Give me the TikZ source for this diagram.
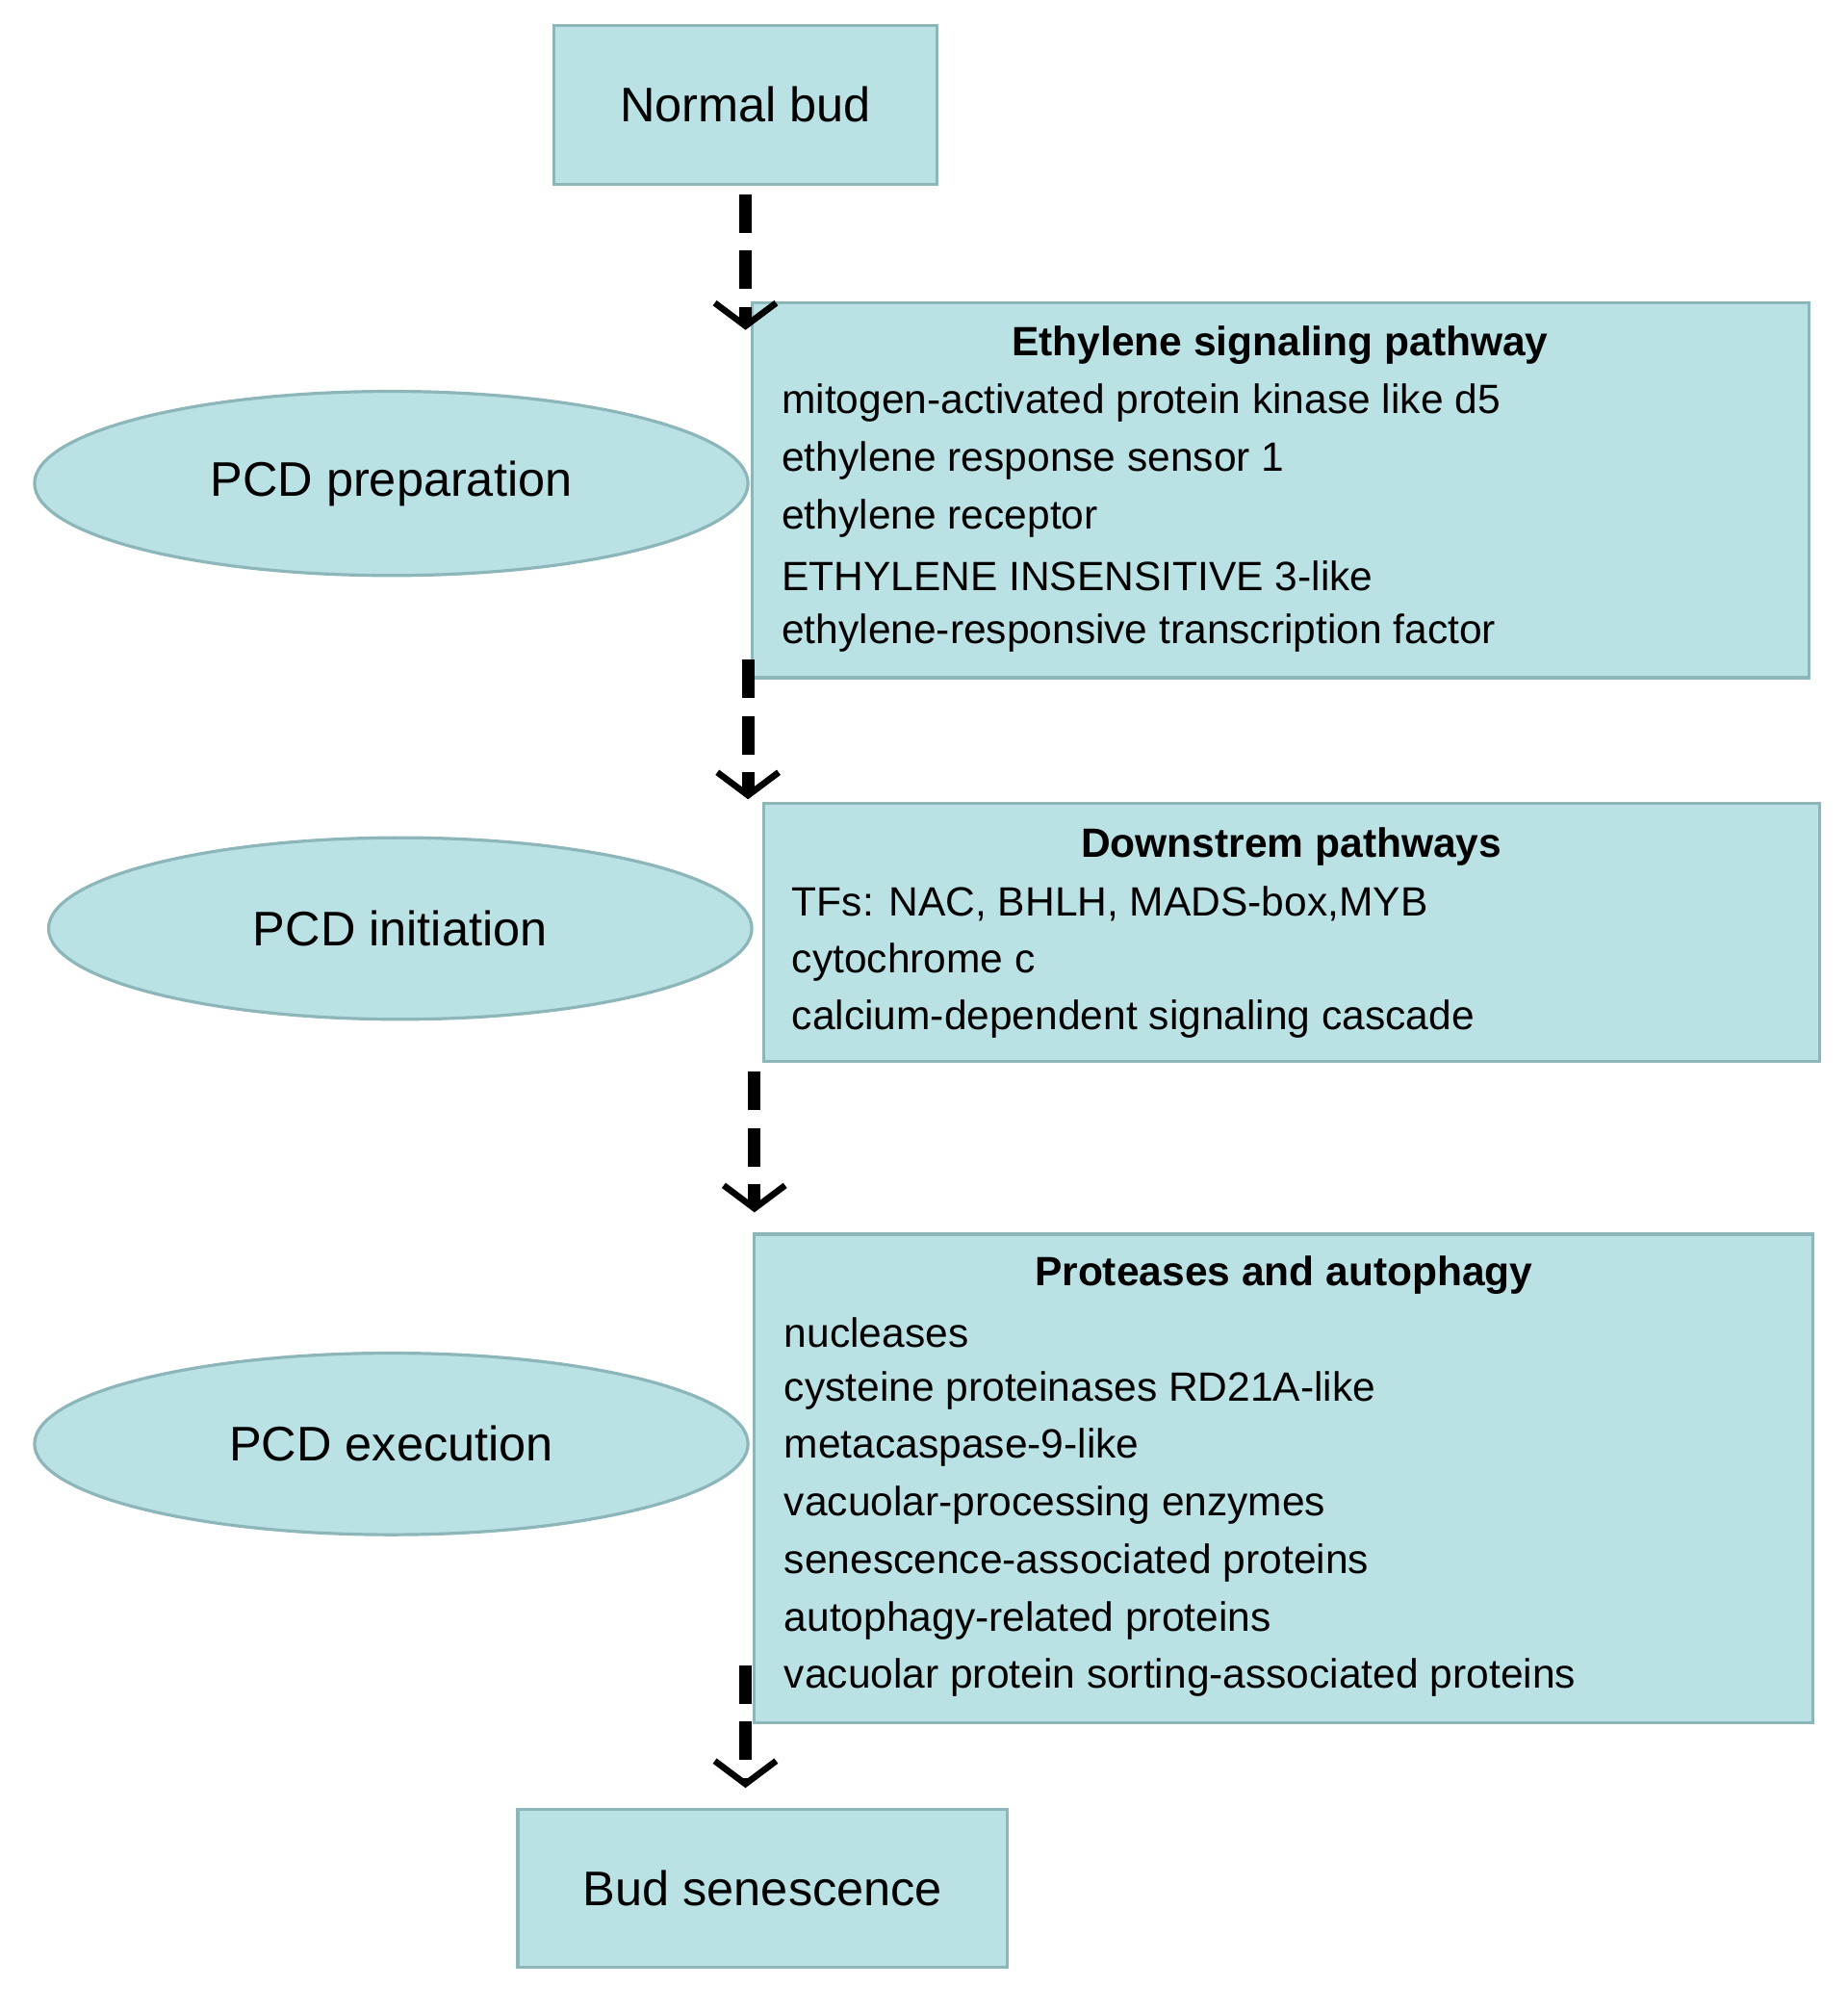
\documentclass[tikz,border=0pt]{standalone}
\usepackage{fontspec}
\setmainfont{Liberation Sans}
\usetikzlibrary{arrows.meta,shapes.geometric}
\definecolor{fillc}{RGB}{186,225,228}
\definecolor{edgec}{RGB}{140,182,186}
\begin{document}
\begin{tikzpicture}[x=0.5pt,y=-0.5pt,
  box/.style={draw=edgec,line width=1.2pt,fill=fillc,inner sep=0pt},
  ell/.style={ellipse,draw=edgec,line width=1.2pt,fill=fillc,inner sep=0pt},
  big/.style={font=\fontsize{19}{23}\selectfont},
  ttl/.style={font=\fontsize{16}{19}\selectfont\bfseries},
  ln/.style={anchor=west,font=\fontsize{16}{19}\selectfont,inner sep=0pt},
  arr/.style={line width=5pt,dash pattern=on 15pt off 7pt,-{Straight Barb[length=9pt,width=24pt,line width=2.5pt]}}]
\useasboundingbox (0,0) rectangle (1445,1574);
\fill[white] (0,0) rectangle (1445,1574);
% boxes
\node[box,minimum width=150pt,minimum height=62pt,big] (nb) at (583,82) {Normal bud};
\node[box,minimum width=413.5pt,minimum height=146.5pt] (eth) at (1001.5,383.5) {};
\node[box,minimum width=413pt,minimum height=101pt] (dn) at (1010,729) {};
\node[box,minimum width=414pt,minimum height=191pt] (pr) at (1004,1156) {};
\node[box,minimum width=191.5pt,minimum height=61.5pt,big] (bs) at (596.5,1476.5) {Bud senescence};
% ellipses
\node[ell,minimum width=279pt,minimum height=72pt,big] (e1) at (306,378) {PCD preparation};
\node[ell,minimum width=275pt,minimum height=71pt,big] (e2) at (313,726) {PCD initiation};
\node[ell,minimum width=279pt,minimum height=71pt,big] (e3) at (306,1129) {PCD execution};
% texts
\node[ttl] (t1) at (1001,270) {Ethylene signaling pathway};
\node[ln] (a1) at (611,315) {mitogen-activated protein kinase like d5};
\node[ln] (a2) at (611,360) {ethylene response sensor 1};
\node[ln] (a3) at (611,405) {ethylene receptor};
\node[ln] (a4) at (611,450) {ETHYLENE INSENSITIVE 3-like};
\node[ln] (a5) at (611,495) {ethylene-responsive transcription factor};
\node[ttl] (t2) at (1010,662) {Downstrem pathways};
\node[ln] (b1) at (619,707) {TFs: NAC, BHLH, MADS-box,MYB};
\node[ln] (b2) at (619,752) {cytochrome c};
\node[ln] (b3) at (619,797) {calcium-dependent signaling cascade};
\node[ttl] (t3) at (1004,997) {Proteases and autophagy};
\node[ln] (c1) at (613,1042) {nucleases};
\node[ln] (c2) at (613,1087) {cysteine proteinases RD21A-like};
\node[ln] (c3) at (613,1132) {metacaspase-9-like};
\node[ln] (c4) at (613,1177) {vacuolar-processing enzymes};
\node[ln] (c5) at (613,1222) {senescence-associated proteins};
\node[ln] (c6) at (613,1267) {autophagy-related proteins};
\node[ln] (c7) at (613,1312) {vacuolar protein sorting-associated proteins};
% arrows
\coordinate (s1) at (583,152); \coordinate (p1) at (583,258);
\coordinate (s2) at (585,516); \coordinate (p2) at (585,625);
\coordinate (s3) at (590,838); \coordinate (p3) at (590,948);
\coordinate (s4) at (583,1302); \coordinate (p4) at (583,1398);
\draw[arr] (s1) -- (p1);
\draw[arr] (s2) -- (p2);
\draw[arr] (s3) -- (p3);
\draw[arr] (s4) -- (p4);
\end{tikzpicture}
\end{document}
